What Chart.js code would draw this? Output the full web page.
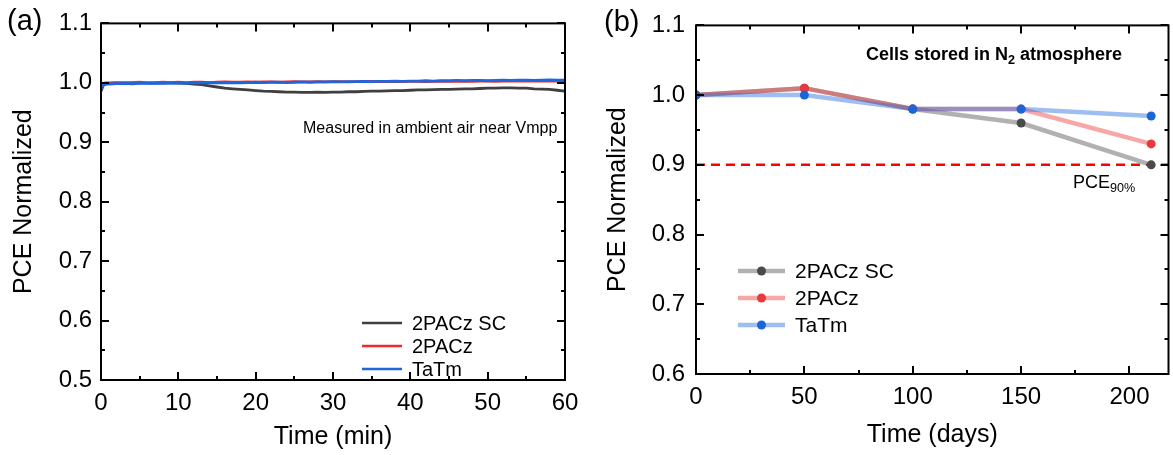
<!DOCTYPE html>
<html>
<head>
<meta charset="utf-8">
<script src="https://cdn.jsdelivr.net/npm/chart.js@4.4.1/dist/chart.umd.min.js"></script>
<style>
  html, body { margin: 0; padding: 0; background: #fff; }
  #wrap { position: relative; width: 1173px; height: 455px; overflow: hidden; font-family: 'Liberation Sans', Arial, sans-serif; color: #000; }
  canvas { position: absolute; top: 0; }
  .lbl { position: absolute; white-space: nowrap; line-height: 1; }
  sub { font-size: 0.7em; vertical-align: baseline; position: relative; top: 0.3em; }
</style>
</head>
<body>
<div id="wrap">
  <canvas id="cA" width="600" height="455" style="left:0"></canvas>
  <canvas id="cB" width="573" height="455" style="left:600px"></canvas>
  <div class="lbl" style="left:7px; top:6px; font-size:29px;">(a)</div>
  <div class="lbl" style="left:604px; top:7px; font-size:29px;">(b)</div>
  <div class="lbl" style="left:303px; top:120px; font-size:16px;">Measured in ambient air near Vmpp</div>
  <div class="lbl" style="left:866px; top:45px; font-size:18px; font-weight:bold;">Cells stored in N<sub>2</sub> atmosphere</div>
  <div class="lbl" style="left:1073px; top:173px; font-size:18px;">PCE<sub>90%</sub></div>
</div>
<script>
// ---------- Panel (a): continuous tracking in ambient air ----------
const timeMin = [0,0.3,0.6,1,2,3,4,5,6,7,8,9,10,11,12,13,14,15,16,17,18,19,20,21,22,23,24,25,26,27,28,29,30,
  31,32,33,34,35,36,37,38,39,40,41,42,43,44,45,46,47,48,49,50,51,52,53,54,55,56,57,58,59,60];
const pce2PACzSC_a = [0.986,0.996,0.998,0.999,0.9995,1.000,0.9995,1.000,1.000,0.9995,1.000,1.000,0.9995,0.999,0.998,0.997,0.995,0.993,0.991,0.990,0.989,0.988,0.987,0.986,0.9855,0.985,0.9845,0.9845,0.984,0.984,0.9845,0.984,0.9845,
  0.9845,0.985,0.985,0.9855,0.986,0.986,0.9865,0.987,0.987,0.9875,0.988,0.988,0.9885,0.989,0.989,0.9895,0.990,0.990,0.9905,0.991,0.991,0.9915,0.9915,0.991,0.991,0.990,0.9895,0.989,0.9875,0.986];
const pce2PACz_a = [0.998,0.999,1.000,1.000,1.0005,1.000,1.0005,1.001,1.000,1.0005,1.001,1.0005,1.001,1.0005,1.001,1.001,1.0005,1.001,1.0015,1.001,1.001,1.0015,1.001,1.0015,1.0015,1.001,1.0015,1.002,1.0015,1.0015,1.002,1.0015,1.002,
  1.002,1.0015,1.002,1.002,1.0025,1.002,1.002,1.0025,1.002,1.0025,1.0025,1.002,1.0025,1.003,1.0025,1.0025,1.003,1.0025,1.003,1.003,1.0025,1.003,1.003,1.0035,1.003,1.003,1.0035,1.003,1.003,1.003];
const pceTaTm_a = [0.990,0.996,0.998,0.998,0.9985,0.999,0.9985,0.999,0.999,0.9995,0.999,0.9995,1.000,0.9995,1.000,1.000,1.0005,1.000,1.000,1.0005,1.000,1.0005,1.001,1.0005,1.001,1.001,1.0005,1.001,1.0015,1.001,1.0015,1.0015,1.002,
  1.0015,1.002,1.002,1.0025,1.002,1.0025,1.0025,1.003,1.0025,1.003,1.003,1.0035,1.003,1.0035,1.0035,1.004,1.0035,1.004,1.004,1.0035,1.004,1.0045,1.004,1.0045,1.0045,1.004,1.0045,1.005,1.0045,1.0045];
const xTicksA = [0,10,20,30,40,50,60];
const yTicksA = [0.5,0.6,0.7,0.8,0.9,1.0,1.1];

// ---------- Panel (b): storage in N2 ----------
const timeDays = [0,50,100,150,210];
const pce2PACzSC_b = [1.00,1.01,0.98,0.96,0.90];
const pce2PACz_b   = [1.00,1.01,0.98,0.98,0.93];
const pceTaTm_b    = [1.00,1.00,0.98,0.98,0.97];
const pce90Level = 0.9;
const xRangeB = [0, 218];
const xTicksB = [0,50,100,150,200];
const yTicksB = [0.6,0.7,0.8,0.9,1.0,1.1];

const FAM = "'Liberation Sans', Arial, sans-serif";
const pts = (xs, ys) => xs.map((x, i) => ({x, y: ys[i]}));
const mids = arr => arr.slice(0, -1).map((v, i) => (v + arr[i + 1]) / 2);

const framePlugin = {
  id: 'frame',
  afterDatasetsDraw(chart, args, o) {
    const {ctx, chartArea: a} = chart;
    const x = chart.scales.x, y = chart.scales.y;
    ctx.save();
    ctx.strokeStyle = '#000';
    ctx.lineWidth = 2;
    ctx.lineCap = 'butt';
    ctx.strokeRect(a.left, a.top, a.right - a.left, a.bottom - a.top);
    const seg = (x1, y1, x2, y2) => { ctx.beginPath(); ctx.moveTo(x1, y1); ctx.lineTo(x2, y2); ctx.stroke(); };
    const xt = (vals, len) => vals.forEach(v => { const p = Math.round(x.getPixelForValue(v)); seg(p, a.bottom, p, a.bottom - len); seg(p, a.top, p, a.top + len); });
    const yt = (vals, len) => vals.forEach(v => { const p = Math.round(y.getPixelForValue(v)); seg(a.left, p, a.left + len, p); seg(a.right, p, a.right - len, p); });
    xt(o.xMajor, 8); xt(o.xMinor, 4);
    yt(o.yMajor, 8); yt(o.yMinor, 4);
    ctx.restore();
  }
};

const legendPlugin = {
  id: 'seriesLegend',
  afterDraw(chart, args, o) {
    const ctx = chart.ctx;
    ctx.save();
    ctx.font = o.fontSize + 'px ' + FAM;
    ctx.textBaseline = 'middle';
    ctx.fillStyle = '#000';
    o.items.forEach((di, r) => {
      const ds = chart.data.datasets[di];
      const yy = o.y + r * o.rowH;
      ctx.strokeStyle = ds.borderColor;
      ctx.lineWidth = o.lineW;
      ctx.beginPath(); ctx.moveTo(o.x, yy); ctx.lineTo(o.x + o.len, yy); ctx.stroke();
      if (o.marker) {
        ctx.fillStyle = ds.pointBackgroundColor;
        ctx.beginPath(); ctx.arc(o.x + o.len / 2, yy, ds.pointRadius, 0, Math.PI * 2); ctx.fill();
      }
      ctx.fillStyle = '#000';
      ctx.fillText(ds.label, o.x + o.len + o.gap, yy + 1);
    });
    ctx.restore();
  }
};

function axisCommon(ticksArr, fit, tickPad, title, titlePad, fmt) {
  return {
    type: 'linear',
    afterBuildTicks: s => { s.ticks = ticksArr.map(v => ({value: v})); },
    afterFit: fit,
    grid: {display: false, drawTicks: false},
    border: {display: false},
    ticks: {padding: tickPad, color: '#000', font: {size: 24, family: FAM}, maxRotation: 0, autoSkip: false, callback: fmt},
    title: {display: true, text: title, color: '#000', font: {size: 25, family: FAM}, padding: titlePad}
  };
}

// ---- chart A
new Chart(document.getElementById('cA'), {
  type: 'line',
  data: {
    datasets: [
      {label: '2PACz SC', data: pts(timeMin, pce2PACzSC_a), borderColor: '#3f3f3f', borderWidth: 2.8, pointRadius: 0, order: 2},
      {label: '2PACz', data: pts(timeMin, pce2PACz_a), borderColor: '#ee2a2a', borderWidth: 2.8, pointRadius: 0, order: 1},
      {label: 'TaTm', data: pts(timeMin, pceTaTm_a), borderColor: '#1f66dd', borderWidth: 2.8, pointRadius: 0, order: 0}
    ]
  },
  options: {
    responsive: false, animation: false, devicePixelRatio: 1,
    layout: {padding: {left: 0, top: 21, right: 35, bottom: 0}},
    plugins: {
      legend: {display: false}, tooltip: {enabled: false},
      frame: {xMajor: xTicksA, xMinor: mids(xTicksA), yMajor: yTicksA, yMinor: mids(yTicksA)},
      seriesLegend: {items: [0, 1, 2], x: 362, y: 323, rowH: 23, len: 40, gap: 10, lineW: 2.5, fontSize: 20, marker: false}
    },
    scales: {
      x: Object.assign(axisCommon(xTicksA, s => { s.height = 75; }, 9, 'Time (min)', {top: 0, bottom: 3}, v => String(v)), {min: 0, max: 60}),
      y: Object.assign(axisCommon(yTicksA, s => { s.width = 101; }, 9, 'PCE Normalized', {top: 9, bottom: 0}, v => v.toFixed(1)), {min: 0.5, max: 1.1})
    }
  },
  plugins: [framePlugin, legendPlugin]
});

// ---- chart B
new Chart(document.getElementById('cB'), {
  type: 'line',
  data: {
    datasets: [
      {label: '2PACz SC', data: pts(timeDays, pce2PACzSC_b), borderColor: 'rgba(100,100,100,0.5)', borderWidth: 4.5,
        pointRadius: 4.5, pointBackgroundColor: '#4a4a4a', pointBorderColor: '#4a4a4a', pointBorderWidth: 0, order: 2},
      {label: '2PACz', data: pts(timeDays, pce2PACz_b), borderColor: 'rgba(240,60,60,0.45)', borderWidth: 4.5,
        pointRadius: 4.5, pointBackgroundColor: '#e83a3a', pointBorderColor: '#e83a3a', pointBorderWidth: 0, order: 1},
      {label: 'TaTm', data: pts(timeDays, pceTaTm_b), borderColor: 'rgba(40,110,225,0.45)', borderWidth: 4.5,
        pointRadius: 4.5, pointBackgroundColor: '#1a66d9', pointBorderColor: '#1a66d9', pointBorderWidth: 0, order: 0},
      {label: 'PCE90%', data: pts(xRangeB, [pce90Level, pce90Level]), borderColor: '#ff0000', borderWidth: 2.5,
        borderDash: [9, 6], pointRadius: 0, order: 3}
    ]
  },
  options: {
    responsive: false, animation: false, devicePixelRatio: 1,
    layout: {padding: {left: 0, top: 25, right: 1, bottom: 0}},
    plugins: {
      legend: {display: false}, tooltip: {enabled: false},
      frame: {xMajor: xTicksB, xMinor: [25, 75, 125, 175], yMajor: yTicksB, yMinor: mids(yTicksB)},
      seriesLegend: {items: [0, 1, 2], x: 138, y: 271, rowH: 27, len: 47, gap: 10, lineW: 4.5, fontSize: 21, marker: true}
    },
    scales: {
      x: Object.assign(axisCommon(xTicksB, s => { s.height = 81; }, 9, 'Time (days)', {top: 0, bottom: 5}, v => String(v)), {min: xRangeB[0], max: xRangeB[1]}),
      y: Object.assign(axisCommon(yTicksB, s => { s.width = 96; }, 11, 'PCE Normalized', {top: 3, bottom: 0}, v => v.toFixed(1)), {min: 0.6, max: 1.1})
    }
  },
  plugins: [framePlugin, legendPlugin]
});
</script>
</body>
</html>
